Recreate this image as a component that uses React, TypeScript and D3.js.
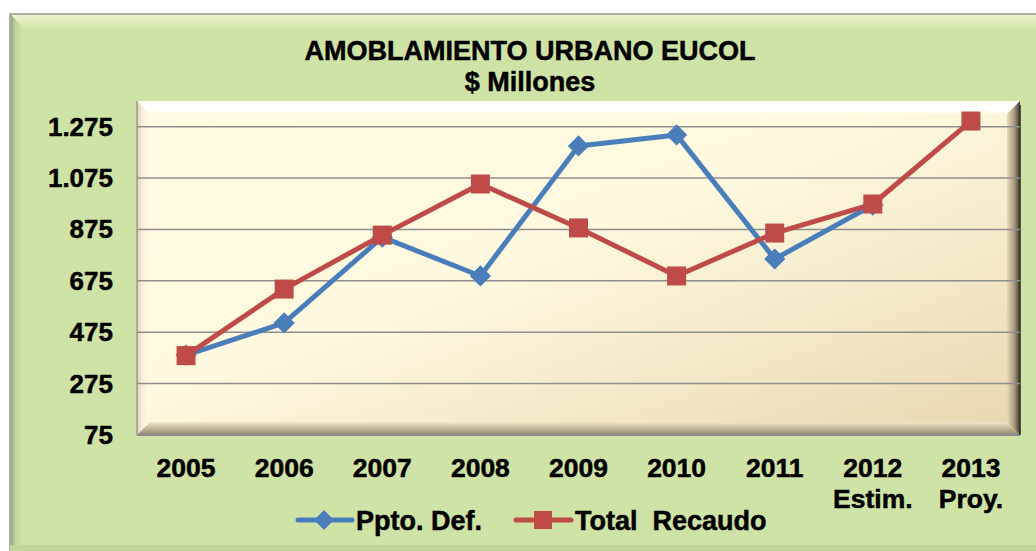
import React from "react";
import * as d3 from "d3";

// values (millions)
const years = ["2005", "2006", "2007", "2008", "2009", "2010", "2011", "2012", "2013"];
const subLabels = ["", "", "", "", "", "", "", "Estim.", "Proy."];
const ppto: (number | null)[] = [386, 511, 845, 694, 1200, 1243, 760, 970, null];
const recaudo: (number | null)[] = [384, 643, 853, 1052, 881, 694, 861, 974, 1297];
const yTicks = [75, 275, 475, 675, 875, 1075, 1275];

const W = 1036;
const H = 551;
const plot = { left: 137, right: 1020, top: 101, bottom: 435 };
const bevel = 13;

const BLUE = "#4a7ebb";
const RED = "#be4b48";
const FONT = "'Liberation Sans', Arial, sans-serif";
// heavier bold like the reference rendering
const txt = { fontFamily: FONT, fontWeight: "bold" as const, stroke: "#000", strokeWidth: 0.5 };

const fmt = (v: number) => d3.format(",")(v).replace(/,/g, ".");

export default function App() {
	const x = d3.scaleBand<string>().domain(years).range([plot.left, plot.right]);
	const cx = (y: string) => (x(y) ?? 0) + x.bandwidth() / 2;
	const y = d3.scaleLinear().domain([75, 1375]).range([plot.bottom, plot.top]);

	const line = d3
		.line<number | null>()
		.defined((d) => d != null)
		.x((_, i) => cx(years[i]))
		.y((d) => y(d as number));

	const { left: L, right: R, top: T, bottom: B } = plot;

	return (
		<svg width={W} height={H} style={{ position: "absolute", left: 0, top: 0, display: "block" }}>
			<defs>
				<linearGradient id="plotFill" x1="0" y1="0" x2="1" y2="1">
					<stop offset="0" stopColor="#fffce3" />
					<stop offset="0.45" stopColor="#fef9df" />
					<stop offset="1" stopColor="#e8d7b0" />
				</linearGradient>
				<linearGradient id="bvTop" x1="0" y1="0" x2="0" y2="1">
					<stop offset="0" stopColor="#fffdf2" />
					<stop offset="0.6" stopColor="#ffffff" />
					<stop offset="1" stopColor="#fffbe3" />
				</linearGradient>
				<linearGradient id="bvLeft" x1="0" y1="0" x2="1" y2="0">
					<stop offset="0" stopColor="#d9cdb4" />
					<stop offset="0.4" stopColor="#fbeedb" />
					<stop offset="1" stopColor="#fffbe3" />
				</linearGradient>
				<linearGradient id="bvBottom" x1="0" y1="0" x2="0" y2="1">
					<stop offset="0" stopColor="#f3e7c8" />
					<stop offset="0.6" stopColor="#b9ad92" />
					<stop offset="1" stopColor="#8d846f" />
				</linearGradient>
				<linearGradient id="bvRight" x1="0" y1="0" x2="1" y2="0">
					<stop offset="0" stopColor="#e9d9b4" />
					<stop offset="0.55" stopColor="#a99c80" />
					<stop offset="1" stopColor="#3f3a30" />
				</linearGradient>
				<linearGradient id="frTop" x1="0" y1="0" x2="0" y2="1">
					<stop offset="0" stopColor="#eaf4c9" />
					<stop offset="1" stopColor="#d6e7ad" />
				</linearGradient>
				<linearGradient id="frLeft" x1="0" y1="0" x2="1" y2="0">
					<stop offset="0" stopColor="#98a583" />
					<stop offset="0.35" stopColor="#c3d49c" />
					<stop offset="1" stopColor="#d2e4a7" />
				</linearGradient>
			</defs>

			{/* outer frame */}
			<rect x={10} y={14} width={W} height={H} fill="#d0e3a6" stroke="#9a9a9a" strokeWidth={1.5} />
			<polygon points={`11,15 ${W},15 ${W},28 24,28`} fill="url(#frTop)" />
			<polygon points={`11,15 24,28 24,${H - 6} 11,${H}`} fill="url(#frLeft)" />
			<rect x={10} y={H - 6} width={W} height={6} fill="#c3d59b" />

			{/* plot area with bevel */}
			<rect x={L} y={T} width={R - L} height={B - T} fill="url(#plotFill)" />
			<polygon points={`${L},${T} ${R},${T} ${R - bevel},${T + bevel} ${L + bevel},${T + bevel}`} fill="url(#bvTop)" />
			<polygon points={`${L},${T} ${L + bevel},${T + bevel} ${L + bevel},${B - bevel} ${L},${B}`} fill="url(#bvLeft)" />
			<polygon points={`${L},${B} ${L + bevel},${B - bevel} ${R - bevel},${B - bevel} ${R},${B}`} fill="url(#bvBottom)" />
			<polygon points={`${R},${T} ${R},${B} ${R - bevel},${B - bevel} ${R - bevel},${T + bevel}`} fill="url(#bvRight)" />
			<line x1={L} x2={L} y1={T} y2={B} stroke="#9a9a9a" strokeWidth={1.5} />
			<line x1={L} x2={R} y1={B} y2={B} stroke="#8c8c8c" strokeWidth={2} />
			<line x1={R} x2={R} y1={T + 4} y2={B} stroke="#2e2a22" strokeWidth={1.5} />

			{/* gridlines */}
			{yTicks.slice(1).map((t) => (
				<line key={t} x1={L} x2={R} y1={y(t)} y2={y(t)} stroke="#8e8e8e" strokeWidth={1.5} />
			))}

			{/* title */}
			<text x={530} y={60} textAnchor="middle" fontSize={27} {...txt}>
				AMOBLAMIENTO URBANO EUCOL
			</text>
			<text x={530} y={91} textAnchor="middle" fontSize={27} {...txt}>
				$ Millones
			</text>

			{/* y axis labels */}
			{yTicks.map((t) => (
				<text key={t} x={113} y={y(t) + 9} textAnchor="end" fontSize={26} {...txt}>
					{fmt(t)}
				</text>
			))}

			{/* x axis labels */}
			{years.map((yr, i) => (
				<g key={yr}>
					<text x={cx(yr)} y={477} textAnchor="middle" fontSize={26.5} {...txt}>
						{yr}
					</text>
					{subLabels[i] && (
						<text x={cx(yr)} y={508} textAnchor="middle" fontSize={26.5} {...txt}>
							{subLabels[i]}
						</text>
					)}
				</g>
			))}

			{/* series */}
			<path d={line(ppto) ?? ""} fill="none" stroke={BLUE} strokeWidth={5} strokeLinejoin="round" />
			{ppto.map((v, i) =>
				v == null ? null : (
					<rect key={i} x={cx(years[i]) - 7.5} y={y(v) - 7.5} width={15} height={15} fill={BLUE}
						transform={`rotate(45 ${cx(years[i])} ${y(v)})`} />
				)
			)}
			<path d={line(recaudo) ?? ""} fill="none" stroke={RED} strokeWidth={5} strokeLinejoin="round" />
			{recaudo.map((v, i) =>
				v == null ? null : (
					<rect key={i} x={cx(years[i]) - 9.5} y={y(v) - 9.5} width={19} height={19} fill={RED} />
				)
			)}

			{/* legend */}
			<line x1={298} x2={352} y1={520} y2={520} stroke={BLUE} strokeWidth={5} strokeLinecap="round" />
			<rect x={317} y={513} width={14} height={14} fill={BLUE} transform="rotate(45 324 520)" />
			<text x={356} y={530} fontSize={27} {...txt}>
				Ppto. Def.
			</text>
			<line x1={516} x2={571} y1={520} y2={520} stroke={RED} strokeWidth={5} strokeLinecap="round" />
			<rect x={534} y={511} width={18} height={18} fill={RED} />
			<text x={575} y={530} fontSize={27} {...txt} style={{ whiteSpace: "pre" }}>
				{"Total  Recaudo"}
			</text>
		</svg>
	);
}
